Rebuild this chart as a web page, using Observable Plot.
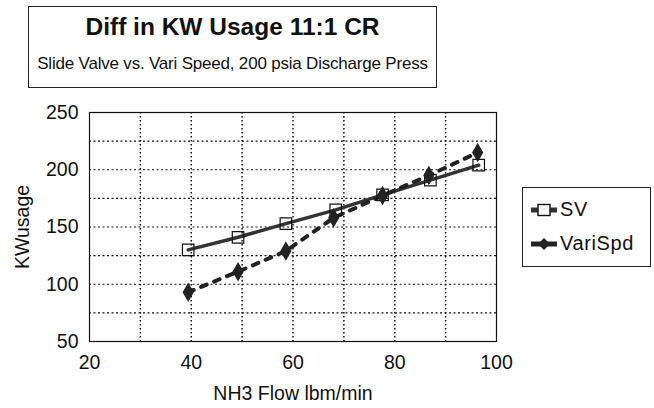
<!DOCTYPE html>
<html><head><meta charset="utf-8">
<script src="https://cdn.jsdelivr.net/npm/d3@7"></script>
<script src="https://cdn.jsdelivr.net/npm/@observablehq/plot@0.6"></script>
<style>
body{margin:0;background:#fff;font-family:"Liberation Sans",Arial,sans-serif;}
#wrap{position:relative;width:654px;height:408px;}
#titlebox{position:absolute;left:28px;top:6px;width:409px;height:82px;border:1px solid #222;box-sizing:border-box;text-align:center;color:#111;}
#t1{font-weight:bold;font-size:24.5px;margin-top:6px;}
#t2{font-size:17px;margin-top:13px;letter-spacing:-0.2px;}
#legend{position:absolute;left:522px;top:187px;width:129px;height:80px;border:1px solid #222;box-sizing:border-box;font-size:20px;color:#111;letter-spacing:0.6px;}
.li{position:absolute;left:8px;display:flex;align-items:center;}
.li svg{margin-right:3px;}
#chart{position:absolute;left:0;top:0;}
</style></head>
<body><div id="wrap"><div id="chart"></div>
<div id="titlebox"><div id="t1">Diff in KW Usage 11:1 CR</div><div id="t2">Slide Valve vs. Vari Speed, 200 psia Discharge Press</div></div>
<div id="legend"></div>
</div>
<script>
const seriesNames = ["SV", "VariSpd"];
const flowSV = [39.4, 49.2, 58.6, 68.4, 77.6, 87.0, 96.5];
const kwSV   = [130, 141, 153, 165, 178, 191, 204];
const flowVS = [39.4, 49.2, 58.6, 68.0, 77.6, 86.7, 96.3];
const kwVS   = [93, 111, 129, 158, 177.5, 195, 215];
const xTicks = [20, 40, 60, 80, 100];
const yTicks = [50, 100, 150, 200, 250];
const xGrid = [30, 40, 50, 60, 70, 80, 90];
const yGrid = [75, 100, 125, 150, 175, 200, 225];

const sv = flowSV.map((x, i) => ({x, y: kwSV[i]}));
const vs = flowVS.map((x, i) => ({x, y: kwVS[i]}));

const plot = Plot.plot({
  width: 654, height: 408,
  marginLeft: 89, marginRight: 158, marginTop: 112, marginBottom: 67,
  style: {fontFamily: '"Liberation Sans", Arial, sans-serif', fontSize: "19.5px", color: "#111", background: "transparent"},
  x: {domain: [20, 100]},
  y: {domain: [50, 250]},
  marks: [
    Plot.ruleX(xGrid, {stroke: "#111", strokeWidth: 1.5, strokeDasharray: "1.5,2.5"}),
    Plot.ruleY(yGrid, {stroke: "#111", strokeWidth: 1.2, strokeDasharray: "2,2.5"}),
    Plot.frame({stroke: "#111", strokeWidth: 1.2}),
    Plot.line(sv, {x: "x", y: "y", stroke: "#333", strokeWidth: 3.5}),
    Plot.line(vs, {x: "x", y: "y", stroke: "#222", strokeWidth: 4, strokeDasharray: "6,8"}),
    Plot.dot(sv, {x: "x", y: "y", symbol: "square", r: 6.5, stroke: "#111", strokeWidth: 1.2, fill: "none"}),
    Plot.dot(vs, {x: "x", y: "y", symbol: "diamond", r: 5, fill: "#222", stroke: "#222"}),
    Plot.axisX({ticks: xTicks, tickSize: 0, tickPadding: 14, fontSize: 19.5, label: "NH3 Flow lbm/min", labelAnchor: "center", labelOffset: 58, labelArrow: "none"}),
    Plot.axisY({ticks: yTicks, tickSize: 0, tickPadding: 11, fontSize: 19.5, label: "KWusage", labelAnchor: "center", labelOffset: 74, labelArrow: "none"})
  ]
});
document.getElementById("chart").appendChild(plot);

const leg = document.getElementById("legend");
seriesNames.forEach((name, i) => {
  const d = document.createElement("div");
  d.className = "li";
  d.style.top = (i === 0 ? 10 : 44) + "px";
  const sym = i === 0
    ? '<svg width="26" height="14"><line x1="0" y1="7" x2="26" y2="7" stroke="#333" stroke-width="5"/><rect x="7" y="1.5" width="12" height="11" fill="#fff" stroke="#111" stroke-width="1.4"/></svg>'
    : '<svg width="26" height="14"><line x1="0" y1="7" x2="26" y2="7" stroke="#222" stroke-width="5"/><path d="M13 1 L19 7 L13 13 L7 7Z" fill="#222"/></svg>';
  d.innerHTML = sym + "<span>" + name + "</span>";
  leg.appendChild(d);
});
</script></body></html>
